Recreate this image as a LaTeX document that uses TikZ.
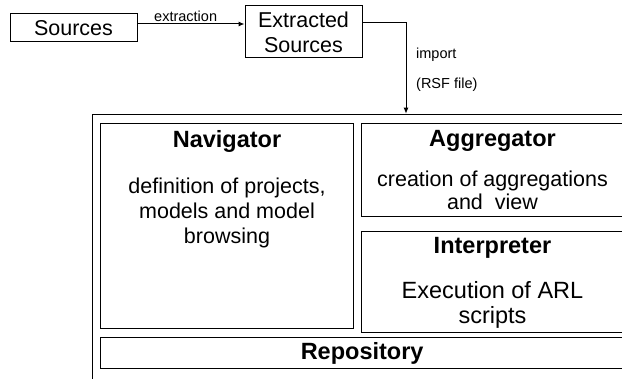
\documentclass[tikz,border=0pt]{standalone}
\usepackage{fontspec}
\setmainfont{Liberation Sans}
\usetikzlibrary{calc,positioning,arrows.meta}

\tikzset{
  blk/.style={draw, rectangle, inner sep=0pt, line width=1pt},
  modtitle/.style={inner sep=0pt, anchor=base, font=\fontsize{23.5}{26}\selectfont\bfseries},
  modtext/.style={inner sep=0pt, anchor=base, align=center},
  lbl/.style={inner sep=0pt, font=\fontsize{14.5}{16}\selectfont},
  flow/.style={line width=1pt, -{Latex[length=6pt,width=5pt]}},
}

\begin{document}
\begin{tikzpicture}[x=1pt,y=-1pt]
\useasboundingbox (0,0) rectangle (622,379);

% input side
\node[blk, minimum width=127pt, minimum height=28pt, font=\fontsize{21.5}{25}\selectfont] (src) at (73.5,28) {Sources};
\node[blk, minimum width=117pt, minimum height=52pt, align=center, font=\fontsize{21.5}{25}\selectfont] (ext) at (303.5,32) {Extracted\\Sources};
\draw[flow] (src.east |- 0,24) -- node[lbl, pos=.45, above=2pt] {extraction} (ext.west |- 0,24);

% the tool itself
\node[blk, anchor=north west, minimum width=545pt, minimum height=300pt] (tool) at (91.7,113.7) {};
\coordinate (bend) at (406,23);
\draw[flow] (ext.east |- bend) -- (bend) -- (bend |- tool.north);
\node[lbl, anchor=west] at (416,55) {import};
\node[lbl, anchor=west] at (416,85) {(RSF file)};

% modules
\node[blk, anchor=north west, minimum width=252.4pt, minimum height=205.6pt] (nav) at (100.3,122.7) {};
\node[blk, anchor=north west, minimum width=262pt, minimum height=93.3pt] (agg) at (361,122.7) {};
\node[blk, anchor=north west, minimum width=262pt, minimum height=101pt] (int) at (361,230.7) {};
\node[blk, anchor=north west, minimum width=522.7pt, minimum height=30.7pt, font=\fontsize{23.5}{26}\selectfont\bfseries] (repo) at (100.3,337.3) {Repository};

% base = baseline of the last line
\node[modtitle] at (nav.north |- 0,147.8) {Navigator};
\node[modtext, font=\fontsize{21.5}{25}\selectfont] at (nav.north |- 0,243.5) {definition of projects,\\models and model\\browsing};

\node[modtitle] at (agg.north |- 0,147) {Aggregator};
\node[modtext, font=\fontsize{21.5}{23}\selectfont] at (agg.north |- 0,210) {creation of aggregations\\and\ \ view};

\node[modtitle] at (int.north |- 0,253.5) {Interpreter};
\node[modtext, font=\fontsize{23.5}{25}\selectfont] at (int.north |- 0,323.3) {Execution of ARL\\scripts};
\end{tikzpicture}
\end{document}
